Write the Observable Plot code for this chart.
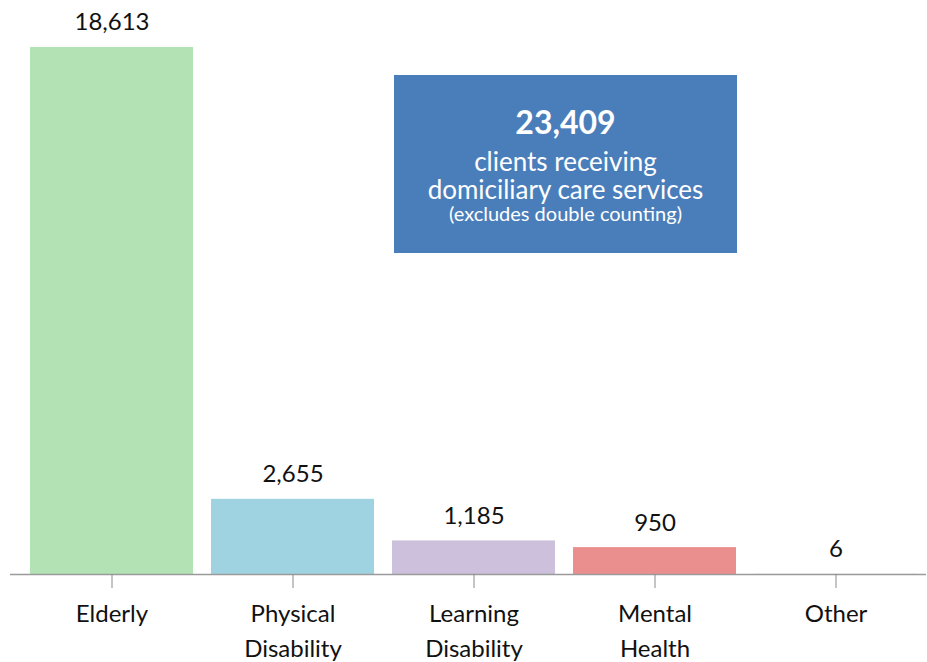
<!DOCTYPE html>
<html>
<head>
<meta charset="utf-8">
<script src="https://cdn.jsdelivr.net/npm/d3@7"></script>
<script src="https://cdn.jsdelivr.net/npm/@observablehq/plot@0.6"></script>
<style>
  html, body { margin: 0; padding: 0; background: #fff; }
  #wrap { position: relative; width: 927px; height: 662px; font-family: Lato, "Open Sans", sans-serif; }
  #box {
    position: absolute; left: 394px; top: 75px; width: 343px; height: 178px;
    background: #4a7ebb; color: #fff; text-align: center; box-sizing: border-box;
    font-family: Lato, sans-serif; white-space: nowrap;
  }
  #box .big { font-weight: bold; font-size: 32px; margin-top: 29px; line-height: 36px; height: 36px; }
  #box .mid { font-size: 26px; line-height: 28px; height: 28px; }
  #box .mid.first { margin-top: 7px; }
  #box .small { font-size: 20px; line-height: 20px; height: 20px; }
</style>
</head>
<body>
<div id="wrap"></div>
<script>
const categories = ["Elderly", "Physical\nDisability", "Learning\nDisability", "Mental\nHealth", "Other"];
const values = [18613, 2655, 1185, 950, 6];
const colors = ["#b3e3b4", "#a0d3e2", "#ccc0dc", "#eb8f8e", "#cccccc"];
const totalClients = 23409;
const boxLines = ["clients receiving", "domiciliary care services", "(excludes double counting)"];

const data = categories.map((c, i) => ({cat: c, value: values[i], color: colors[i]}));
const fmt = d3.format(",");

const chart = Plot.plot({
  width: 927,
  height: 662,
  marginLeft: 10,
  marginRight: 1,
  insetLeft: 11,
  marginTop: 0,
  marginBottom: 88,
  style: {fontFamily: "Lato, 'Open Sans', sans-serif", fontSize: "24px", color: "#111"},
  x: {domain: categories, paddingInner: 0.1, paddingOuter: 0.05, align: 0.5},
  y: {domain: [0, 20000], range: [574, 7.7], axis: null},
  marks: [
    Plot.barY(data, {x: "cat", y: "value", fill: "color"}),
    Plot.ruleY([0], {stroke: "#9a9a9a", strokeWidth: 1.5}),
    Plot.text(data, {x: "cat", y: "value", text: d => fmt(d.value), lineAnchor: "bottom", dy: -17, fontSize: 24, fill: "#111"}),
    Plot.axisX({tickSize: 14, tickPadding: 9, stroke: "#8a8a8a", fontSize: 24, lineHeight: 1.45, fill: "#111", label: null})
  ]
});

const wrap = document.getElementById("wrap");
wrap.appendChild(chart);
const box = document.createElement("div");
box.id = "box";
box.innerHTML = `<div class="big">${fmt(totalClients)}</div>
<div class="mid first">${boxLines[0]}</div>
<div class="mid">${boxLines[1]}</div>
<div class="small">${boxLines[2]}</div>`;
wrap.appendChild(box);
</script>
</body>
</html>
